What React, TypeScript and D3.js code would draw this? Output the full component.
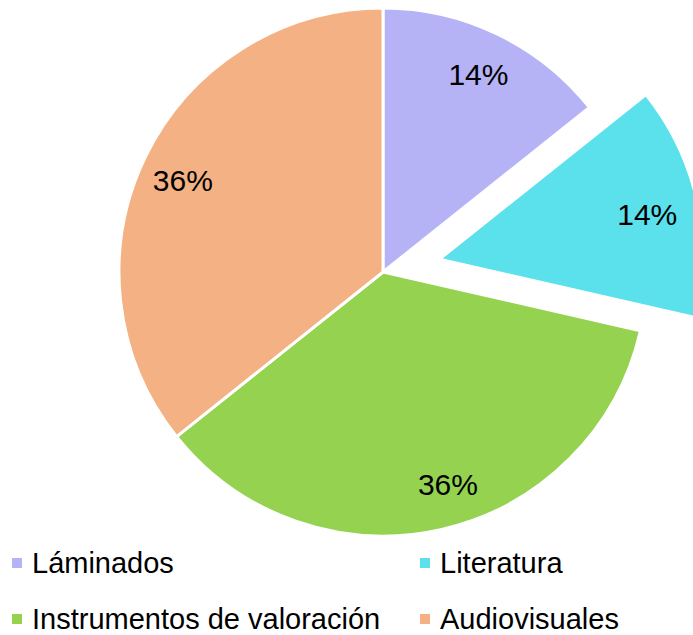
import React from "react";
import * as d3 from "d3";

const categories = ["Láminados", "Literatura", "Instrumentos de valoración", "Audiovisuales"];
const values = [2, 2, 5, 5];
const colors = ["#B5B3F5", "#5AE1EC", "#94D250", "#F4B183"];
const explode = [0, 58, 0, 0];
const labelRadius = [220, 212, 220, 220];
const labelNudge = [
  [0, 0],
  [1, 2],
  [16, -2],
  [-2, 4],
];

export default function App() {
  const width = 693;
  const height = 635;
  const cx = 383;
  const cy = 272;
  const r = 264;
  const pie = d3.pie<number>().sort(null).value((d) => d);
  const arcs = pie(values);
  const arc = d3.arc<d3.PieArcDatum<number>>().innerRadius(0).outerRadius(r);
  const total = d3.sum(values);
  const fmt = d3.format(".0%");
  const labelSize = 30;
  const legendSize = 29;
  const legendPos = [
    [12, 563],
    [420, 563],
    [12, 619],
    [420, 619],
  ];
  return (
    <svg width={width} height={height} style={{ position: "absolute", left: 0, top: 0 }} fontFamily="'Liberation Sans', Arial, sans-serif">
      <g transform={`translate(${cx},${cy})`}>
        {arcs.map((a, i) => {
          const mid = (a.startAngle + a.endAngle) / 2;
          const dx = Math.sin(mid) * explode[i];
          const dy = -Math.cos(mid) * explode[i];
          return (
            <g key={i} transform={`translate(${dx},${dy})`}>
              <path d={arc(a) || ""} fill={colors[i]} stroke="#fff" strokeWidth={3} strokeLinejoin="round" />
            </g>
          );
        })}
        {arcs.map((a, i) => {
          const mid = (a.startAngle + a.endAngle) / 2;
          const dx = Math.sin(mid) * explode[i];
          const dy = -Math.cos(mid) * explode[i];
          const lr = labelRadius[i];
          const lx = Math.sin(mid) * lr + dx + labelNudge[i][0];
          const ly = -Math.cos(mid) * lr + dy + labelNudge[i][1];
          return (
            <text key={i} x={lx} y={ly + labelSize * 0.358} textAnchor="middle" fontSize={labelSize} fill="#000">
              {fmt(values[i] / total)}
            </text>
          );
        })}
      </g>
      {categories.map((c, i) => (
        <g key={c} transform={`translate(${legendPos[i][0]},${legendPos[i][1]})`}>
          <rect x={0} y={-5} width={10} height={10} fill={colors[i]} />
          <text x={20} y={legendSize * 0.358} fontSize={legendSize} fill="#000">
            {c}
          </text>
        </g>
      ))}
    </svg>
  );
}
